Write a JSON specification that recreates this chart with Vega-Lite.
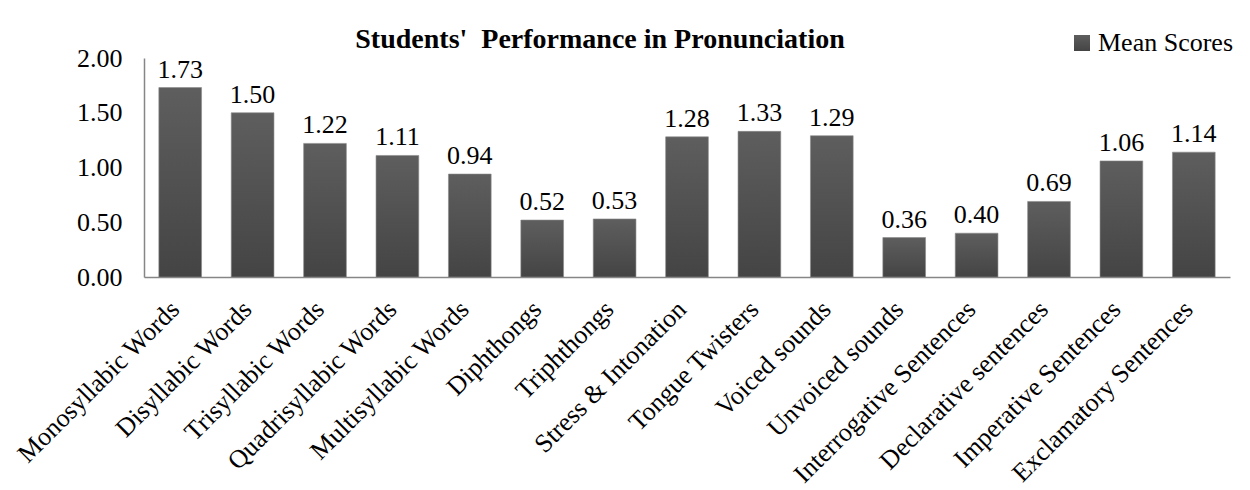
{
  "$schema": "https://vega.github.io/schema/vega-lite/v6.json",
  "width": 1086,
  "height": 219,
  "autosize": {"type": "none"},
  "padding": {"left": 144, "top": 58, "right": 20, "bottom": 213},
  "background": "white",
  "config": {"font": "Liberation Serif", "view": {"stroke": null}},
  "title": {
    "text": "Students'\u00a0 Performance in Pronunciation",
    "font": "Liberation Serif",
    "fontSize": 28,
    "fontWeight": "bold",
    "color": "black",
    "anchor": "middle",
    "dx": -87,
    "dy": 54,
    "frame": "group",
    "baseline": "alphabetic",
    "offset": 8
  },
  "data": {
    "values": [
      {"category": "Monosyllabic Words", "score": 1.73, "series": "Mean Scores"},
      {"category": "Disyllabic Words", "score": 1.50, "series": "Mean Scores"},
      {"category": "Trisyllabic Words", "score": 1.22, "series": "Mean Scores"},
      {"category": "Quadrisyllabic Words", "score": 1.11, "series": "Mean Scores"},
      {"category": "Multisyllabic Words", "score": 0.94, "series": "Mean Scores"},
      {"category": "Diphthongs", "score": 0.52, "series": "Mean Scores"},
      {"category": "Triphthongs", "score": 0.53, "series": "Mean Scores"},
      {"category": "Stress & Intonation", "score": 1.28, "series": "Mean Scores"},
      {"category": "Tongue Twisters", "score": 1.33, "series": "Mean Scores"},
      {"category": "Voiced sounds", "score": 1.29, "series": "Mean Scores"},
      {"category": "Unvoiced sounds", "score": 0.36, "series": "Mean Scores"},
      {"category": "Interrogative Sentences", "score": 0.40, "series": "Mean Scores"},
      {"category": "Declarative sentences", "score": 0.69, "series": "Mean Scores"},
      {"category": "Imperative Sentences", "score": 1.06, "series": "Mean Scores"},
      {"category": "Exclamatory Sentences", "score": 1.14, "series": "Mean Scores"}
    ]
  },
  "encoding": {
    "x": {
      "field": "category",
      "type": "nominal",
      "sort": null,
      "scale": {"paddingInner": 0.41, "paddingOuter": 0.205},
      "axis": {
        "title": null,
        "ticks": false,
        "domainColor": "#868686",
        "domainWidth": 1.5,
        "labelAngle": -45,
        "labelAlign": "right",
        "labelBaseline": "middle",
        "labelFont": "Liberation Serif",
        "labelFontSize": 26,
        "labelColor": "black",
        "labelPadding": 28,
        "labelOffset": -5,
        "labelLimit": 500,
        "labelOverlap": false
      }
    },
    "y": {
      "field": "score",
      "type": "quantitative",
      "scale": {"domain": [0, 2], "nice": false},
      "axis": {
        "title": null,
        "ticks": false,
        "grid": false,
        "values": [0, 0.5, 1, 1.5, 2],
        "format": ".2f",
        "domainColor": "#868686",
        "domainWidth": 1.5,
        "labelFont": "Liberation Serif",
        "labelFontSize": 26,
        "labelColor": "black",
        "labelPadding": 22
      }
    }
  },
  "layer": [
    {
      "mark": {
        "type": "bar",
        "strokeWidth": 0.6,
        "color": {"gradient": "linear", "x1": 0, "y1": 0, "x2": 0, "y2": 1, "stops": [{"offset": 0, "color": "#5e5e5e"}, {"offset": 1, "color": "#444444"}]}
      },
      "encoding": {
        "stroke": {
          "field": "series",
          "type": "nominal",
          "scale": {"range": ["#8a8a8a"]},
          "legend": {
            "title": null,
            "orient": "none",
            "legendX": 925,
            "legendY": -28,
            "symbolType": "square",
            "symbolSize": 256,
            "symbolFillColor": "#555555",
            "symbolStrokeColor": "#555555",
            "symbolStrokeWidth": 0,
            "labelFont": "Liberation Serif",
            "labelFontSize": 26,
            "labelColor": "black",
            "labelOffset": 3,
            "padding": 0
          }
        }
      }
    },
    {
      "mark": {"type": "text", "dy": -10, "baseline": "alphabetic", "font": "Liberation Serif", "fontSize": 26, "color": "black"},
      "encoding": {"text": {"field": "score", "type": "quantitative", "format": ".2f"}}
    }
  ]
}
